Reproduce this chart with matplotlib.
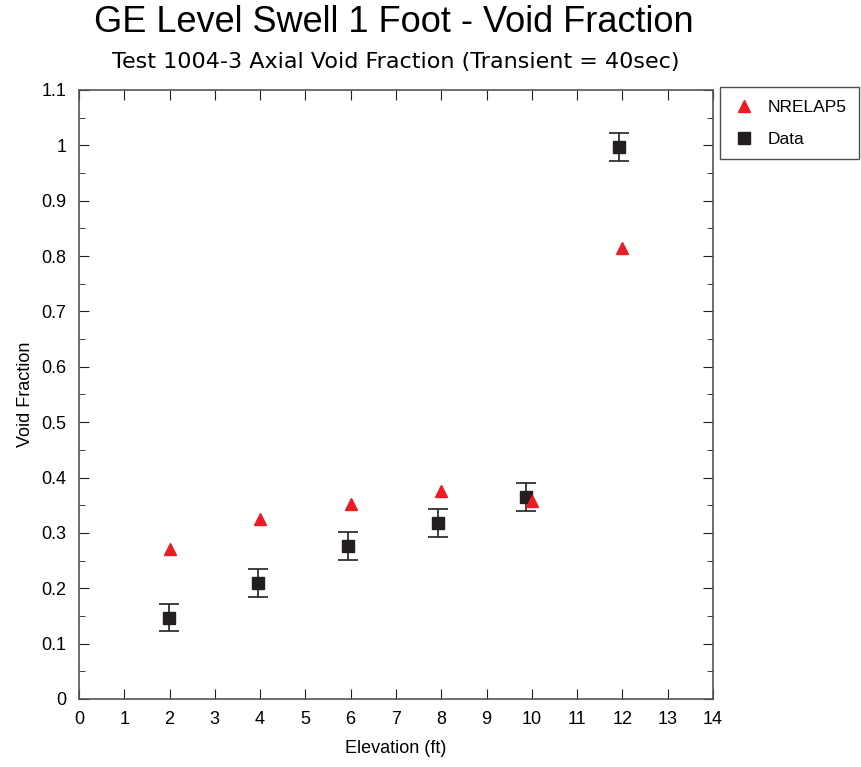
import matplotlib
matplotlib.use('Agg')
import matplotlib.pyplot as plt
from matplotlib.ticker import MultipleLocator

plt.rcParams['font.family'] = ['Liberation Sans', 'DejaVu Sans']

# NRELAP5 prediction
relap_x = [2, 4, 6, 8, 10, 12]
relap_y = [0.271, 0.325, 0.352, 0.376, 0.358, 0.815]

# test data with error bars
data_x = [1.99, 3.95, 5.93, 7.92, 9.87, 11.92]
data_y = [0.147, 0.209, 0.276, 0.318, 0.365, 0.997]
data_err = [0.025, 0.025, 0.025, 0.025, 0.025, 0.025]

fig = plt.figure(figsize=(8.62, 7.67), dpi=100)
ax = fig.add_axes([0.0916, 0.0887, 0.7355, 0.794])

ax.errorbar(data_x, data_y, yerr=data_err, fmt='none', ecolor='#231f20',
            elinewidth=1.2, capsize=7, capthick=1.2, zorder=2)
ax.plot(data_x, data_y, 's', color='#231f20', markersize=8, label='Data', zorder=3)
ax.plot(relap_x, relap_y, '^', color='#ed1c24', markersize=9, label='NRELAP5', zorder=4)

ax.set_xlim(0, 14)
ax.set_ylim(0, 1.1)
ax.xaxis.set_major_locator(MultipleLocator(1))
ax.yaxis.set_minor_locator(MultipleLocator(0.05))
ax.set_yticks([0, 0.1, 0.2, 0.3, 0.4, 0.5, 0.6, 0.7, 0.8, 0.9, 1.0, 1.1])
ax.set_yticklabels(['0', '0.1', '0.2', '0.3', '0.4', '0.5', '0.6', '0.7', '0.8', '0.9', '1', '1.1'])
ax.tick_params(which='both', direction='in', top=True, right=True, labelsize=13, color='#231f20')
ax.tick_params(which='major', length=7, pad=9)
ax.tick_params(which='minor', length=4)
for s in ax.spines.values():
    s.set_color('#555555')
    s.set_linewidth(1.2)

ax.set_xlabel('Elevation (ft)', fontsize=13, labelpad=8)
ax.set_ylabel('Void Fraction', fontsize=13, labelpad=5)

fig.text(0.457, 0.971, 'GE Level Swell 1 Foot - Void Fraction', ha='center', va='center', fontsize=26)
fig.text(0.459, 0.919, 'Test 1004-3 Axial Void Fraction (Transient = 40sec)', ha='center', va='center',
         fontsize=16, family='DejaVu Sans')

handles, labels = ax.get_legend_handles_labels()
leg = fig.legend(handles[::-1], labels[::-1], loc='upper left', bbox_to_anchor=(0.835, 0.886),
                 fontsize=12.5, frameon=True, fancybox=False, borderpad=0.7, labelspacing=1.0,
                 handlelength=1.4, handletextpad=0.65, borderaxespad=0, edgecolor='#231f20')
leg.get_frame().set_linewidth(1.0)

fig.savefig('out.png', dpi=100)
